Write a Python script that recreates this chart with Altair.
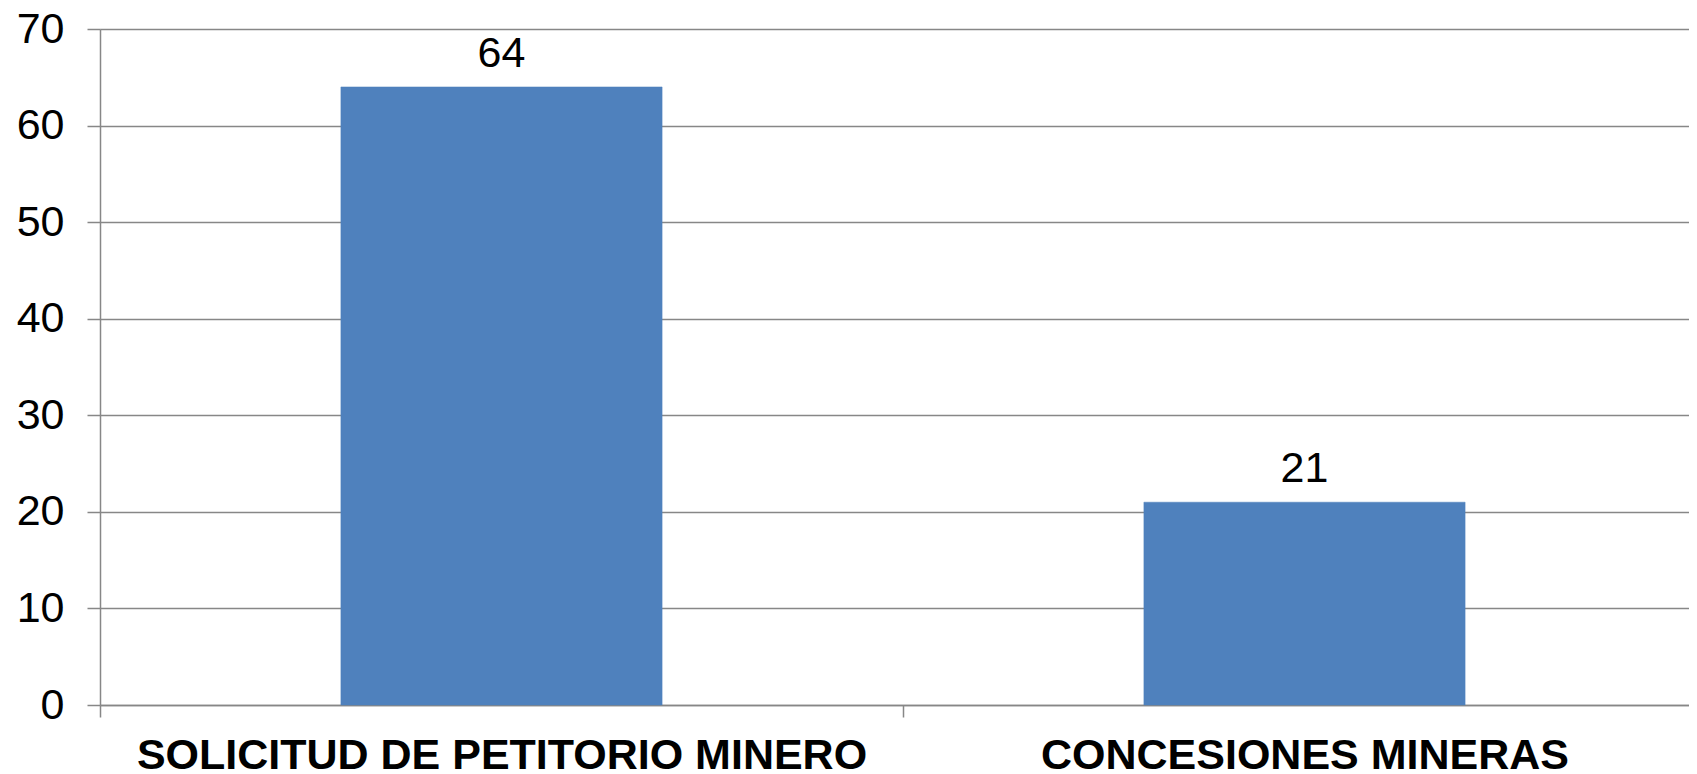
import altair as alt
import pandas as pd

categories = ["SOLICITUD DE PETITORIO MINERO", "CONCESIONES MINERAS"]
values = [64, 21]

df = pd.DataFrame({"categoria": categories, "valor": values})

FONT = "Liberation Sans, Arial, sans-serif"
GRAY = "#878787"

x = alt.X(
    "categoria:N",
    sort=categories,
    title=None,
    scale=alt.Scale(paddingInner=0, paddingOuter=0, range=[0, 1606]),
    axis=alt.Axis(
        labelAngle=0,
        labelFont=FONT,
        labelFontSize=43,
        labelFontWeight="bold",
        labelColor="black",
        labelPadding=17,
        labelLimit=2000,
        tickBand="extent",
        tickSize=12,
        tickColor=GRAY,
        tickWidth=1.5,
        domainColor=GRAY,
        domainWidth=1.5,
        grid=False,
    ),
)
y = alt.Y(
    "valor:Q",
    title=None,
    scale=alt.Scale(domain=[0, 70], nice=False),
    axis=alt.Axis(
        values=[0, 10, 20, 30, 40, 50, 60, 70],
        labelFont=FONT,
        labelFontSize=43,
        labelColor="black",
        labelPadding=23,
        tickSize=13,
        tickColor=GRAY,
        tickWidth=1.5,
        domainColor=GRAY,
        domainWidth=1.5,
        gridColor=GRAY,
        gridWidth=1.5,
    ),
)

bars = alt.Chart(df).mark_bar(
    color="#4F81BD", stroke="#4F81BD", strokeWidth=0.5,
    width=alt.RelativeBandSize(0.4),
).encode(x=x, y=y)
labels = alt.Chart(df).mark_text(
    font=FONT, fontSize=43, color="black", baseline="alphabetic", dy=-20
).encode(x=x, y=y, text="valor:Q")

chart = (
    (bars + labels)
    .properties(
        width=1589,
        height=676,
        autosize=alt.AutoSizeParams(type="none"),
        padding={"left": 92, "top": 21, "right": 0, "bottom": 70},
    )
    .configure_view(stroke=None)
    .configure(background="white")
)

chart.save("out.html", embed_options={"renderer": "svg", "actions": False})
